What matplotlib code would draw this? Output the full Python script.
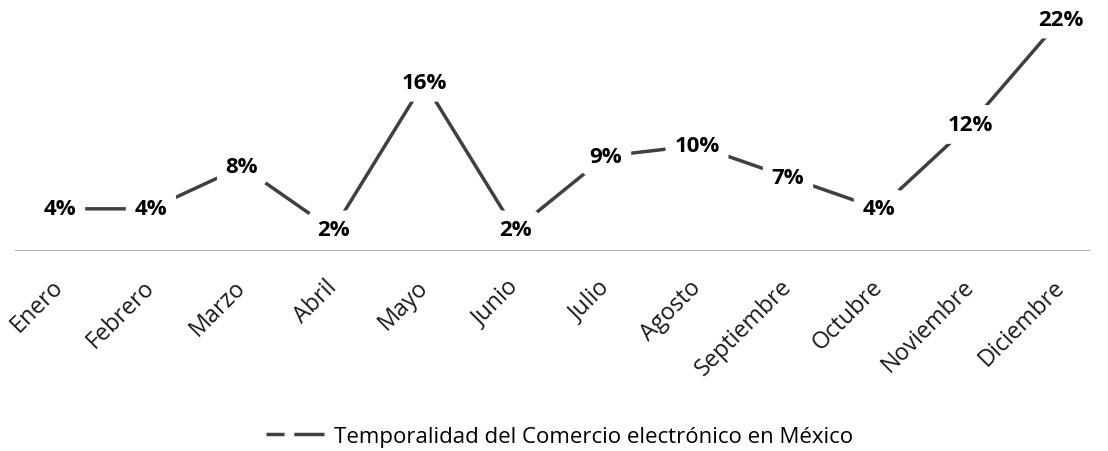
import matplotlib.pyplot as plt
from matplotlib.lines import Line2D
from matplotlib.transforms import ScaledTranslation

plt.rcParams['font.family'] = ['Open Sans', 'DejaVu Sans']
plt.rcParams['lines.scale_dashes'] = False

meses = ['Enero', 'Febrero', 'Marzo', 'Abril', 'Mayo', 'Junio', 'Julio',
         'Agosto', 'Septiembre', 'Octubre', 'Noviembre', 'Diciembre']
valores = [4, 4, 8, 2, 16, 2, 9, 10, 7, 4, 12, 22]
serie = 'Temporalidad del Comercio electrónico en México'

fig = plt.figure(figsize=(11.08, 4.52), dpi=100)
# cada mes ocupa ~91 px, el primero centrado en x~60
ax = fig.add_axes([14.5 / 1108, 0.4425, 1092 / 1108, 0.5575])

x = range(len(meses))
ax.plot(x, valores, color='#404040', lw=2.5, zorder=2)
ax.axhline(0, xmin=0, xmax=0.985, color='#a6a6a6', lw=1.2, zorder=1)

for i, v in zip(x, valores):
    ax.text(i, v, f'{v}%', ha='center', va='center', fontsize=16,
            fontweight='bold', color='black', zorder=3,
            bbox=dict(boxstyle='round,pad=0.4', fc='white', ec='none'))

ax.set_xlim(-0.5, len(meses) - 0.5)
ax.set_ylim(0, 23.9)
ax.set_xticks(list(x))
ax.set_xticklabels(meses, rotation=45, ha='right', rotation_mode='anchor',
                   fontsize=16.8, color='#1a1a1a')
ax.tick_params(axis='x', length=0, pad=17)
# mover un poco las etiquetas hacia la izquierda
off = ScaledTranslation(-6 / 72, 0, fig.dpi_scale_trans)
for lbl in ax.get_xticklabels():
    lbl.set_transform(lbl.get_transform() + off)
ax.set_yticks([])
for s in ax.spines.values():
    s.set_visible(False)

h = Line2D([], [], color='#404040', lw=2.5, dashes=(13, 7, 22, 0))
fig.legend([h], [serie], loc='center', bbox_to_anchor=(0.505, 0.033),
           frameon=False, fontsize=16, handlelength=2.6, handletextpad=0.45)

fig.savefig('out.png', dpi=100)
